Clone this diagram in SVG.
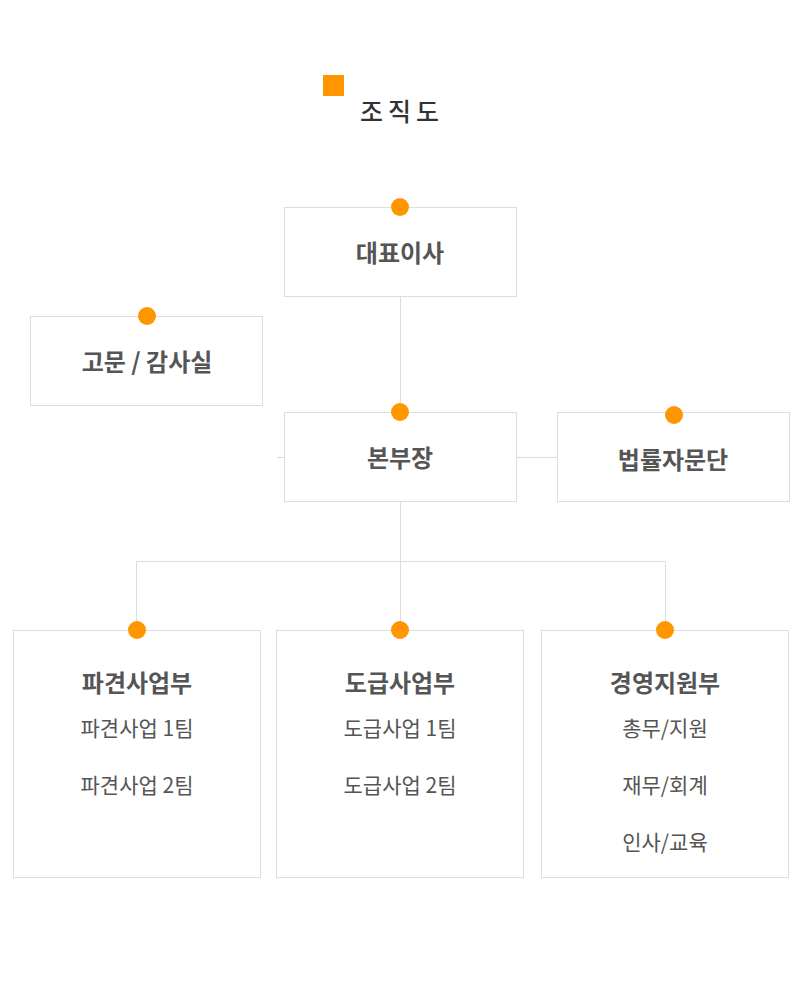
<svg xmlns="http://www.w3.org/2000/svg" width="800" height="982" viewBox="0 0 800 982">
<style>
.box{fill:#fff;stroke:#dddddd;stroke-width:1}
.dot{fill:#ff9600}
.ln{stroke:#dddddd;stroke-width:1;fill:none}
.t{font-family:"Noto Sans CJK KR","Noto Sans",sans-serif;font-size:24px;font-weight:700;fill:#555;text-anchor:middle}
.s{font-family:"Noto Sans CJK KR","Noto Sans",sans-serif;font-size:21px;font-weight:400;fill:#555;text-anchor:middle}
.h{font-family:"Noto Sans CJK KR","Noto Sans",sans-serif;font-size:25px;font-weight:500;fill:#333;letter-spacing:5px}
</style>
<rect width="800" height="982" fill="#fff"/>
<g id="title">
<rect x="323" y="75" width="21" height="21" fill="#ff9600"/>
<text class="h" x="360" y="121">조직도</text>
</g>
<g id="connectors">
<line class="ln" x1="400.5" y1="296" x2="400.5" y2="412"/>
<line class="ln" x1="277" y1="457.5" x2="284" y2="457.5"/>
<line class="ln" x1="516" y1="457.5" x2="557" y2="457.5"/>
<line class="ln" x1="400.5" y1="501" x2="400.5" y2="630"/>
<polyline class="ln" points="136.5,630 136.5,561.5 665.5,561.5 665.5,630"/>
</g>
<g id="ceo">
<rect class="box" x="284.5" y="207.5" width="232" height="89"/>
<circle class="dot" cx="400" cy="207" r="9"/>
<text class="t" x="400" y="262">대표이사</text>
</g>
<g id="advisor">
<rect class="box" x="30.5" y="316.5" width="232" height="89"/>
<circle class="dot" cx="147" cy="316" r="9"/>
<text class="t" x="147" y="371">고문 / 감사실</text>
</g>
<g id="hq">
<rect class="box" x="284.5" y="412.5" width="232" height="89"/>
<circle class="dot" cx="400" cy="412" r="9"/>
<text class="t" x="400" y="467">본부장</text>
</g>
<g id="legal">
<rect class="box" x="557.5" y="412.5" width="232" height="89"/>
<circle class="dot" cx="674" cy="415" r="9"/>
<text class="t" x="673" y="469">법률자문단</text>
</g>
<g id="dispatch">
<rect class="box" x="13.5" y="630.5" width="247" height="247"/>
<circle class="dot" cx="137" cy="630" r="9"/>
<text class="t" x="137" y="692">파견사업부</text>
<text class="s" x="137" y="736">파견사업 1팀</text>
<text class="s" x="137" y="793">파견사업 2팀</text>
</g>
<g id="contract">
<rect class="box" x="276.5" y="630.5" width="247" height="247"/>
<circle class="dot" cx="400" cy="630" r="9"/>
<text class="t" x="400" y="692">도급사업부</text>
<text class="s" x="400" y="736">도급사업 1팀</text>
<text class="s" x="400" y="793">도급사업 2팀</text>
</g>
<g id="management">
<rect class="box" x="541.5" y="630.5" width="247" height="247"/>
<circle class="dot" cx="665" cy="630" r="9"/>
<text class="t" x="665" y="692">경영지원부</text>
<text class="s" x="665" y="736">총무/지원</text>
<text class="s" x="665" y="793">재무/회계</text>
<text class="s" x="665" y="850">인사/교육</text>
</g>
</svg>
